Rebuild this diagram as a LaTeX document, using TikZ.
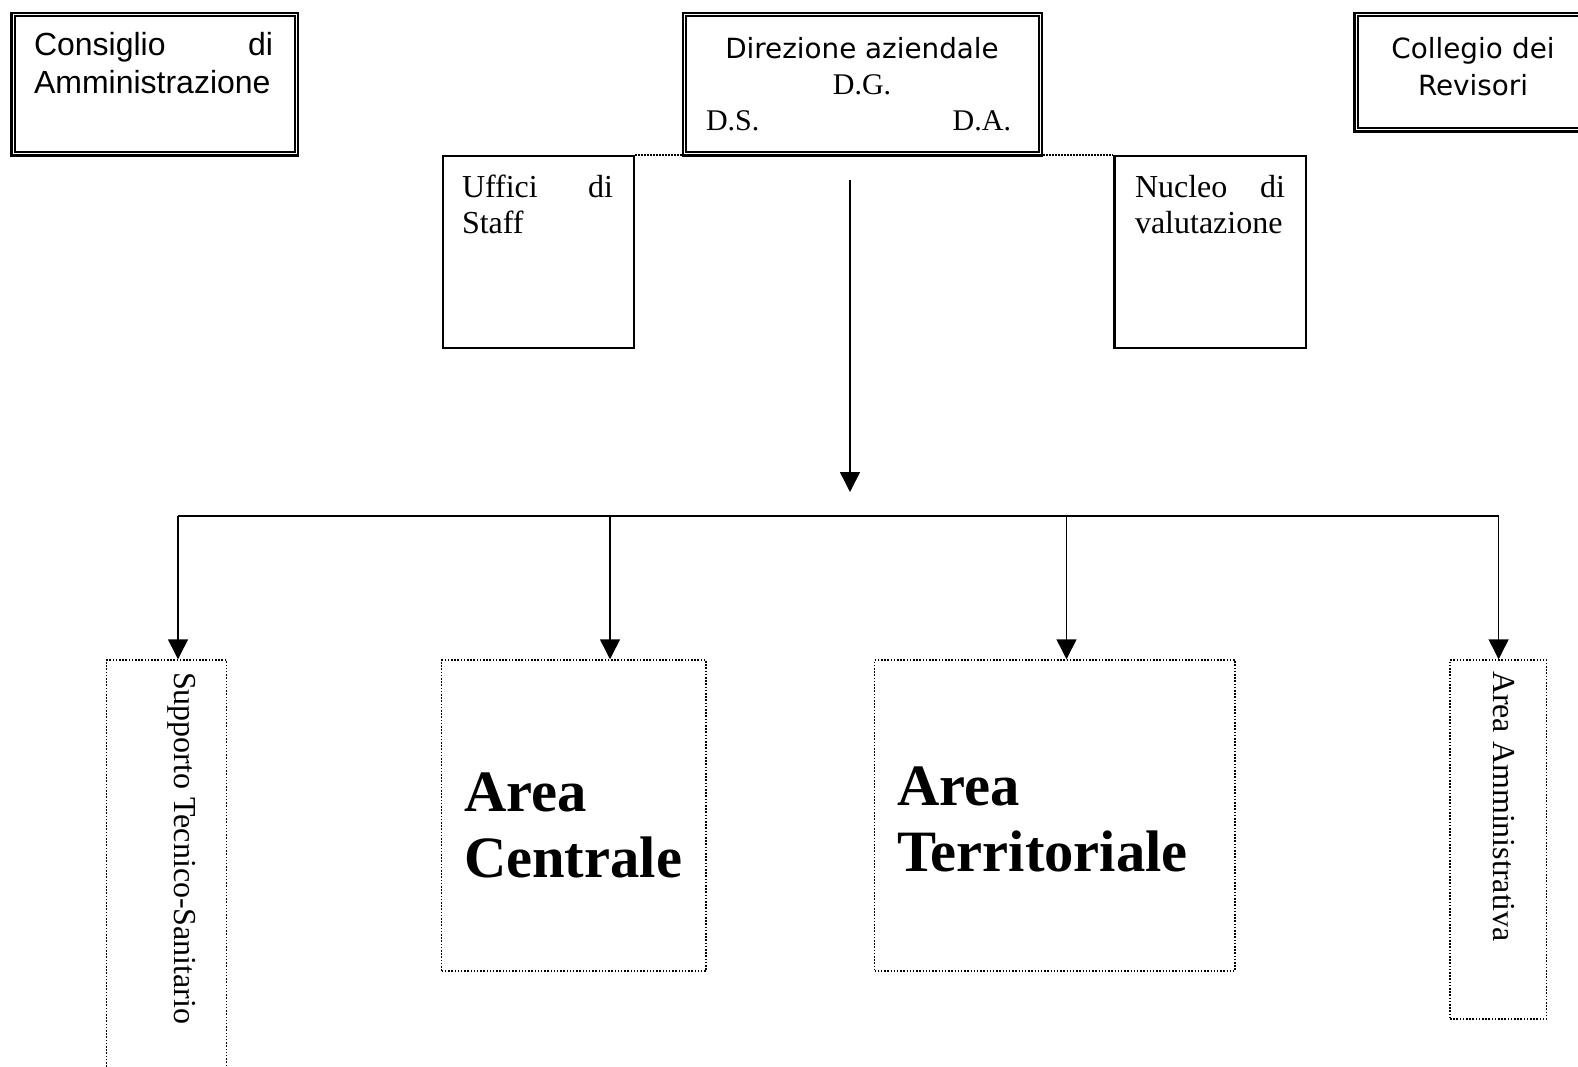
\documentclass[tikz,border=0pt]{standalone}
\usepackage{fontspec}
\setmainfont{Liberation Serif}
\newfontfamily\arialf{Liberation Sans}
\newfontfamily\tahomaf{DejaVu Sans}
\usetikzlibrary{fit,arrows.meta}
\begin{document}
\begin{tikzpicture}[x=0.5pt,y=-0.5pt,
  dblouter/.style={draw, inner sep=0pt, line width=1.3pt},
  dblinner/.style={line width=1pt},
  plainbox/.style={draw, inner sep=0pt, line width=1.1pt},
  dotbox/.style={draw, inner sep=0pt, line width=0.75pt, dash pattern=on 0.75pt off 0.85pt},
  dotline/.style={line width=0.7pt, dash pattern=on 0.7pt off 0.8pt},
  conn/.style={line width=0.75pt},
  arr/.style={line width=0.75pt, -{Triangle[width=10pt,length=10pt]}},
  txt/.style={inner sep=0pt, outer sep=0pt},
  sansA/.style={font=\arialf\fontsize{16}{19}\selectfont},
  sansT/.style={font=\tahomaf\fontsize{13.9}{18.5}\selectfont},
  serifM/.style={font=\fontsize{16}{18}\selectfont},
  serifS/.style={font=\fontsize{15}{18}\selectfont},
  serifB/.style={font=\bfseries\fontsize{29.3}{33.2}\selectfont}
]
\clip (0,0) rectangle (1578,1066);
\fill[white] (0,0) rectangle (1578,1066);

% ---- top double boxes
\node[dblouter, fit={(11.3,13) (298,155.3)}] (cons) {};
\draw[dblinner] ([shift={(4.5,4.5)}]cons.north west) rectangle ([shift={(-4.5,-4.5)}]cons.south east);
\node[txt, sansA, anchor=base west, text width=119.5pt, align=justify] (tcons) at (34,55) {Consiglio\hfill di\\Amministrazione};

\node[dblouter, fit={(683,13) (1042,155.3)}] (dir) {};
\draw[dblinner] ([shift={(4.5,4.5)}]dir.north west) rectangle ([shift={(-4.5,-4.5)}]dir.south east);
\node[txt, sansT, anchor=base] (tdir) at (862,58) {Direzione aziendale};
\node[txt, serifS, anchor=base] (tdg) at (862,94) {D.G.};
\node[txt, serifS, anchor=base west] (tds) at (706,130) {D.S.};
\node[txt, serifS, anchor=base east] (tda) at (1011,130) {D.A.};

\node[dblouter, fit={(1354.7,13) (1600,131.3)}] (coll) {};
\draw[dblinner] ([shift={(4.5,4.5)}]coll.north west) rectangle ([shift={(-4.5,-4.5)}]coll.south east);
\node[txt, sansT, anchor=base, text width=100pt, align=center] (tcoll) at (1473,58) {Collegio dei\\Revisori};

% ---- staff boxes
\node[plainbox, fit={(443,156) (634,348)}] (uff) {};
\node[txt, serifM, anchor=base west, text width=75.5pt, align=justify] (tuff) at (462,197) {Uffici\hfill di\\Staff};
\node[plainbox, fit={(1114.5,156) (1306,348)}] (nuc) {};
\node[txt, serifM, anchor=base west, text width=75pt, align=justify] (tnuc) at (1135,197) {Nucleo\hfill di\\valutazione};

\draw[dotline] (uff.north east) -- (uff.north east -| dir.west);
\draw[dotline] (nuc.north west -| dir.east) -- (nuc.north west);

% ---- bottom dotted boxes
\node[dotbox, fit={(106.5,660) (226.5,1090)}] (sup) {};
\node[dotbox, fit={(441.7,660) (706,971)}] (ac) {};
\node[dotbox, fit={(874.5,660) (1235,971)}] (at) {};
\node[dotbox, fit={(1450,660) (1546.5,1019)}] (aa) {};

\node[txt, serifM, rotate=-90, anchor=base west] (tsup) at (174,672) {Supporto Tecnico-Sanitario};
\node[txt, serifM, rotate=-90, anchor=base west] (taa) at (1493,671) {Area Amministrativa};
\node[txt, serifB, anchor=base west, text width=130pt, align=left] (tac) at (464,811) {Area\\Centrale};
\node[txt, serifB, anchor=base west, text width=170pt, align=left] (tat) at (897,805) {Area\\Territoriale};

% ---- connectors
\coordinate (ctop) at (850,180);
\coordinate (ctip) at (850,492);
\draw[arr] (ctop) -- (ctip);

\coordinate (b1) at (178,516);
\coordinate (b2) at (610,516);
\coordinate (b3) at (1066.5,516);
\coordinate (b4) at (1498.6,516);
\draw[conn] (b1) -- (b4);
\draw[arr] (b1) -- (b1 |- sup.north);
\draw[arr] (b2) -- (b2 |- ac.north);
\draw[arr] (b3) -- (b3 |- at.north);
\draw[arr] (b4) -- (b4 |- aa.north);
\end{tikzpicture}
\end{document}
